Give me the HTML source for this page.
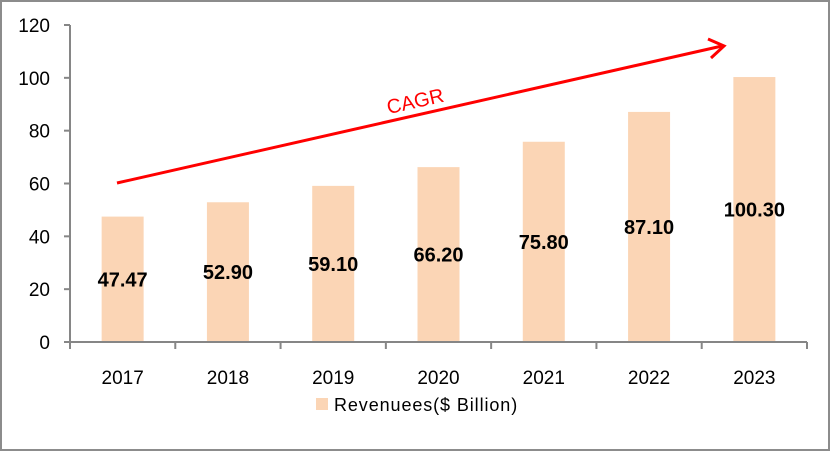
<!DOCTYPE html>
<html><head><meta charset="utf-8"><style>
html,body{margin:0;padding:0;background:#fff}
svg{display:block;font-family:"Liberation Sans",sans-serif}
</style></head><body>
<svg id="chart" width="831" height="452">
<rect x="1" y="1" width="828" height="449" fill="#fff" stroke="#8c8c8c" stroke-width="2"/>
<g id="grid"></g>
<g id="bars"></g>
<g id="axes"></g>
<g id="labels"></g>
<g>
<line x1="117" y1="183" x2="722" y2="46" stroke="#ff0000" stroke-width="3"/>
<polyline points="708,39 724,46 711,58" fill="none" stroke="#ff0000" stroke-width="3"/>
<text x="415" y="108" fill="#ff0000" font-size="20" text-anchor="middle" transform="rotate(-12.7 415 100)">CAGR</text>
</g>
<g>
<rect x="316" y="398" width="12" height="12" fill="#fbd5b5"/>
<text x="334" y="411" font-size="18" letter-spacing="0.9" fill="#000">Revenuees($ Billion)</text>
</g>
</svg>
<script>
const categories=["2017","2018","2019","2020","2021","2022","2023"];
const values=[47.47,52.9,59.1,66.2,75.8,87.1,100.3];
const valueLabels=["47.47","52.90","59.10","66.20","75.80","87.10","100.30"];
const yTicks=[0,20,40,60,80,100,120];
const NS="http://www.w3.org/2000/svg";
const x0=70,x1=807,yBase=342,yTop=25,yMax=120;
const bw=(x1-x0)/categories.length;
const y=v=>yBase-(v/yMax)*(yBase-yTop);
const xc=i=>x0+bw*(i+0.5);
function mk(tag,attrs,parent,text){const e=document.createElementNS(NS,tag);for(const k in attrs)e.setAttribute(k,attrs[k]);if(text!=null)e.textContent=text;document.getElementById(parent).appendChild(e);return e;}
values.forEach((v,i)=>{
 const r=mk('rect',{x:xc(i)-21,y:y(v),width:42,height:yBase-y(v),fill:'#fbd5b5'},'bars');
 
 
 const t=mk('text',{x:xc(i),y:(y(v)+yBase)/2+7,'text-anchor':'middle','font-size':'20','font-weight':'bold',fill:'#000'},'labels',valueLabels[i]);
 
 
 const c=mk('text',{x:xc(i),y:384,'text-anchor':'middle','font-size':'19',fill:'#000'},'labels',categories[i]);
 
 
});
const ax=mk('line',{x1:x0,y1:yTop,x2:x0,y2:yBase,stroke:'#868686','stroke-width':2},'axes');


const bx=mk('line',{x1:x0-6,y1:yBase,x2:x1,y2:yBase,stroke:'#868686','stroke-width':2},'axes');


for(let i=0;i<=categories.length;i++){
 const tk=mk('line',{x1:x0+bw*i,y1:yBase,x2:x0+bw*i,y2:yBase+7,stroke:'#868686','stroke-width':2},'axes');
 
 
}
yTicks.forEach(v=>{
 const tk=mk('line',{x1:x0-6,y1:y(v),x2:x0,y2:y(v),stroke:'#868686','stroke-width':2},'axes');
 
 
 const t=mk('text',{x:50,y:y(v)+7,'text-anchor':'end','font-size':'19',fill:'#000'},'axes',String(v));
 
 
});
</script>
</body></html>
